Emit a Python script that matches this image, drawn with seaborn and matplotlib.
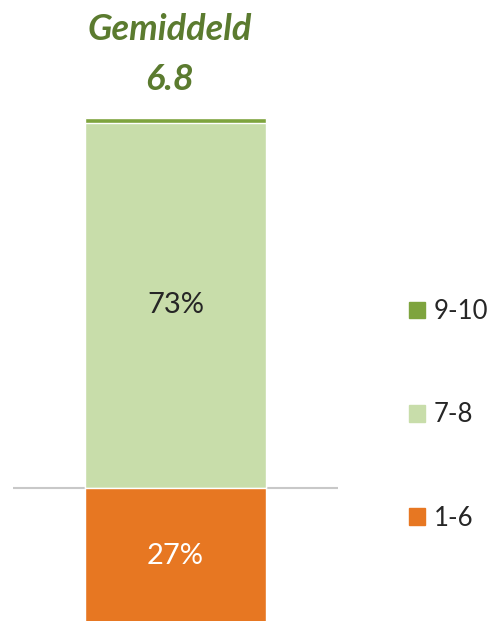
import matplotlib
matplotlib.use("Agg")
import matplotlib.pyplot as plt
import pandas as pd
import seaborn as sns
from matplotlib.patches import Patch

# score groups and their share (%)
groups = ["1-6", "7-8", "9-10"]
shares = [27, 73, 1]
colors = ["#e77722", "#c8ddaa", "#7ea43e"]
average = "6.8"

sns.set_theme(style="white")
plt.rcParams["font.family"] = ["Lato", "DejaVu Sans"]

df = pd.DataFrame({"group": groups, "share": shares})
df["x"] = "score"
# 1-6 hangs below the baseline, the rest stacks on top
df["top"] = [-shares[0], shares[1], shares[1] + shares[2]]

fig = plt.figure(figsize=(4.9, 6.21), dpi=100)
ax = fig.add_axes([13 / 490, 0, 325 / 490, 1])

# draw from the tallest cumulative bar downwards so each one shows its slice
for i in [2, 1, 0]:
    sns.barplot(data=df.iloc[[i]], x="x", y="top", color=colors[i],
                width=0.557, saturation=1, ax=ax, zorder=2)

ax.axhline(0, color="#c8c8c8", lw=1.5, zorder=1)
ax.set_xlim(-0.5, 0.5)
ax.set_ylim(-26.6, 97.6)
ax.axis("off")

ax.text(0, shares[1] / 2, f"{shares[1]}%", ha="center", va="center",
        fontsize=21, color="#262626")
ax.text(0, -shares[0] / 2, f"{shares[0]}%", ha="center", va="center",
        fontsize=21, color="white")

title_color = "#5b7b2f"
fig.text(170 / 490, 1 - 40 / 621, "Gemiddeld", ha="center", va="baseline",
         fontsize=26, fontweight="bold", fontstyle="italic", color=title_color)
fig.text(170 / 490, 1 - 90 / 621, average, ha="center", va="baseline",
         fontsize=26, fontweight="bold", fontstyle="italic", color=title_color)

handles = [Patch(color=colors[i]) for i in [2, 1, 0]]
labels = [groups[i] for i in [2, 1, 0]]
fig.legend(handles, labels, loc="center left",
           bbox_to_anchor=(409 / 490, 1 - 415 / 621), frameon=False,
           fontsize=18.5, handlelength=0.62, handleheight=0.62,
           handletextpad=0.35, labelspacing=3.05, labelcolor="#262626",
           borderpad=0, borderaxespad=0)

fig.savefig("out.png", dpi=100)
